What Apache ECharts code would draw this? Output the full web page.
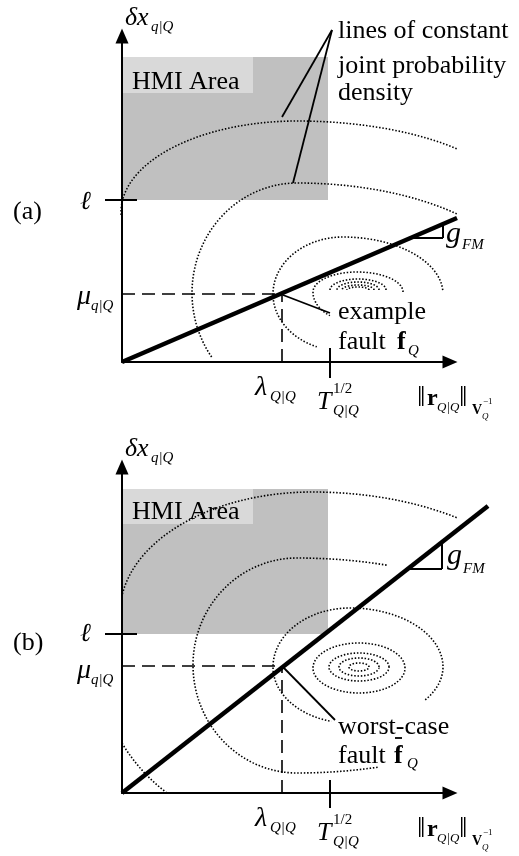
<!DOCTYPE html>
<html>
<head>
<meta charset="utf-8">
<script src="https://cdn.jsdelivr.net/npm/echarts@6.0.0/dist/echarts.min.js"></script>
<style>
  html, body { margin: 0; padding: 0; background: #fff; }
  #chart { width: 519px; height: 856px; }
</style>
</head>
<body>
<div id="chart"></div>
<script>
// both panels use the same units: x along ||r||, y along delta x
var xMax = 328, yMax = 326;

// ---- panel (a): example fault ----
var faultLineA = [[0, 0, 335, 144]];
var guideA = [[0, 68, 158, 68], [160, 0, 160, 68]];          // mu and lambda
var ticksA = [[-17, 162, 15, 162], [208, -16, 208, 14]];       // ell and T^1/2
var slopeA = [[289, 124, 321, 124], [321, 124, 321, 138]];     // g_FM
var leadersA = [[161, 67, 208, 49], [210, 332, 160, 245], [210, 332, 171, 179]];
var areasA = [[0, 162, 206, 305], [0, 269, 131, 305]];         // HMI area, label box
// contour arcs: cx, cy, rx right, ry top, rx left, ry bottom, from deg, to deg
var contoursA = [
  [175, 150, 222, 91, 176, 91, 44, 182],
  [175, 69, 230, 110, 105, 110, 46, 216],
  [221, 68, 100, 57, 70, 57, 4, 248],
  [235, 70, 46, 20, 44, 30, 0, 232],
  [236, 72, 28, 11, 28, 11, 0, 180],
  [236, 72, 21, 8, 21, 8, 0, 180],
  [236, 72, 16, 5, 16, 5, 0, 180],
  [236, 72, 11, 3, 11, 3, 0, 180]
];
var labelsA = [
  [-109, 145, '(a)', 'rm'],
  [-42, 155, 'ℓ', 'it'],
  [-45, 60, 'μ', 'gr'], [-31, 53, 'q|Q', 'sub'],
  [10, 275, 'HMI Area', 'rm'],
  [216, 326, 'lines of constant', 'rm'],
  [216, 291, 'joint probability', 'rm'],
  [216, 264, 'density', 'rm'],
  [324, 122, 'g', 'gi'], [340, 114, 'FM', 'sub'],
  [216, 45, 'example', 'rm'],
  [216, 15, 'fault', 'rm'], [275, 15, 'f', 'bf'], [286, 8, 'Q', 'sub']
];

// ---- panel (b): worst-case fault ----
var faultLineB = [[0, 0, 366, 287]];
var guideB = [[0, 127, 160, 127], [160, 0, 160, 127]];
var ticksB = [[-17, 159, 15, 159], [208, -15, 208, 13]];
var slopeB = [[284, 224, 320, 224], [320, 224, 320, 250]];
var leadersB = [[160, 127, 213, 73], [273, 55, 280, 55]];
var areasB = [[0, 159, 206, 304], [0, 269, 131, 304]];
var contoursB = [
  [190, 180, 235, 121, 192, 121, 52, 172],
  [175, 128, 250, 107, 104, 108, 69, 290],
  [228, 126, 93, 59, 77, 56, -36, 256],
  [237, 125, 46, 25, 46, 25, 0, 360],
  [237, 126, 30, 14, 30, 14, 0, 360],
  [237, 126, 20, 9, 20, 9, 0, 360],
  [237, 126, 10, 4, 10, 4, 0, 360],
  [150, 140, 175, 175, 175, 175, 211, 233]
];
var labelsB = [
  [-109, 145, '(b)', 'rm'],
  [-42, 154, 'ℓ', 'it'],
  [-45, 117, 'μ', 'gr'], [-31, 110, 'q|Q', 'sub'],
  [10, 276, 'HMI Area', 'rm'],
  [325, 231, 'g', 'gi'], [341, 221, 'FM', 'sub'],
  [216, 61, 'worst-case', 'rm'],
  [216, 32, 'fault', 'rm'], [272, 32, 'f', 'bf'], [285, 26, 'Q', 'sub']
];

// axis names and tick labels, same place in both panels
var axisLabels = [
  [3, 339, 'δx', 'it'], [29, 332, 'q|Q', 'sub'],
  [133, -31, 'λ', 'gr'], [148, -38, 'Q|Q', 'sub'],
  [195, -45, 'T', 'it'], [211, -30, '1/2', 'sup'], [211, -52, 'Q|Q', 'sub'],
  [295, -42, '‖', 'bar'], [305, -42, 'r', 'nb'], [315, -48, 'Q|Q', 'sm'],
  [337, -42, '‖', 'bar'], [350, -51, 'V', 'vb'], [360, -56, 'Q', 'tiny'], [361, -41, '−1', 'tn']
];

var SERIF = '"Liberation Serif", "DejaVu Serif", serif';
var fonts = {
  rm: [26, ''], it: [26, 'italic '], gr: [28, 'italic '], gi: [30, 'italic '],
  sub: [15, 'italic '], sup: [15, ''],
  bf: [26, 'bold '], nb: [24, 'bold '], sm: [13, 'italic '], vb: [14, 'bold '],
  tiny: [9, 'italic '], tn: [9, ''], bar: [30, '']
};

var chart = echarts.init(document.getElementById('chart'));

function gridAt(top) {
  return { left: 122, top: top, width: xMax, height: yMax };
}
function axisLine() {
  return {
    onZero: false,
    symbol: ['none', 'triangle'],
    symbolSize: [13, 15],
    lineStyle: { color: '#000', width: 2 }
  };
}
function xAxisFor(i) {
  return { gridIndex: i, type: 'value', min: 0, max: xMax, z: 10, axisLine: axisLine(),
    axisTick: { show: false }, axisLabel: { show: false }, splitLine: { show: false } };
}
function yAxisFor(i) {
  return { gridIndex: i, type: 'value', min: 0, max: yMax, z: 10, axisLine: axisLine(),
    axisTick: { show: false }, axisLabel: { show: false }, splitLine: { show: false } };
}

function areaSeries(i, rows) {
  var fills = ['#c0c0c0', '#d9d9d9'];
  return {
    type: 'custom', xAxisIndex: i, yAxisIndex: i, z: 1, silent: true, data: rows,
    renderItem: function (params, api) {
      var p0 = api.coord([api.value(0), api.value(3)]);
      var p1 = api.coord([api.value(2), api.value(1)]);
      return { type: 'rect', shape: { x: p0[0], y: p0[1], width: p1[0] - p0[0], height: p1[1] - p0[1] },
        style: { fill: fills[params.dataIndex] } };
    }
  };
}

function segSeries(i, rows, width, dash, z) {
  return {
    type: 'custom', xAxisIndex: i, yAxisIndex: i, z: z, silent: true, data: rows,
    renderItem: function (params, api) {
      var a = api.coord([api.value(0), api.value(1)]);
      var b = api.coord([api.value(2), api.value(3)]);
      return { type: 'line', shape: { x1: a[0], y1: a[1], x2: b[0], y2: b[1] },
        style: { stroke: '#000', lineWidth: width, lineDash: dash || null, lineCap: 'butt' } };
    }
  };
}

function contourSeries(i, rows) {
  return {
    type: 'custom', xAxisIndex: i, yAxisIndex: i, z: 3, silent: true, data: rows,
    renderItem: function (params, api) {
      var r = rows[params.dataIndex];
      var pts = [];
      for (var a = r[6]; a <= r[7] + 0.01; a += 2) {
        var t = a * Math.PI / 180, c = Math.cos(t), s = Math.sin(t);
        pts.push(api.coord([r[0] + (c >= 0 ? r[2] : r[4]) * c, r[1] + (s >= 0 ? r[3] : r[5]) * s]));
      }
      return { type: 'polyline', shape: { points: pts },
        style: { stroke: '#000', fill: null, lineWidth: 1.6, lineDash: [1.5, 1.8] } };
    }
  };
}

function labelSeries(i, rows) {
  return {
    type: 'custom', xAxisIndex: i, yAxisIndex: i, z: 12, silent: true,
    data: rows.map(function (r) { return [r[0], r[1]]; }),
    renderItem: function (params, api) {
      var r = rows[params.dataIndex];
      var f = fonts[r[3]];
      // baseline -> middle of the text box
      var p = api.coord([r[0], r[1] + 0.2 * f[0]]);
      return { type: 'text', x: p[0], y: p[1],
        style: { text: r[2], font: f[1] + f[0] + 'px ' + SERIF, fill: '#000', align: 'left', verticalAlign: 'middle' } };
    }
  };
}

function panel(i, d) {
  return [
    areaSeries(i, d.areas),
    contourSeries(i, d.contours),
    segSeries(i, d.guide, 1.6, [13, 7], 4),
    segSeries(i, d.ticks, 2, null, 5),
    segSeries(i, d.slope, 2, null, 5),
    segSeries(i, d.leaders, 1.8, null, 5),
    segSeries(i, d.fault, 4.5, null, 6),
    labelSeries(i, d.labels.concat(axisLabels))
  ];
}

chart.setOption({
  animation: false,
  backgroundColor: '#fff',
  grid: [gridAt(36), gridAt(467)],
  xAxis: [xAxisFor(0), xAxisFor(1)],
  yAxis: [yAxisFor(0), yAxisFor(1)],
  series: panel(0, { areas: areasA, contours: contoursA, guide: guideA, ticks: ticksA, slope: slopeA,
      leaders: leadersA, fault: faultLineA, labels: labelsA })
    .concat(panel(1, { areas: areasB, contours: contoursB, guide: guideB, ticks: ticksB, slope: slopeB,
      leaders: leadersB, fault: faultLineB, labels: labelsB }))
});
</script>
</body>
</html>
